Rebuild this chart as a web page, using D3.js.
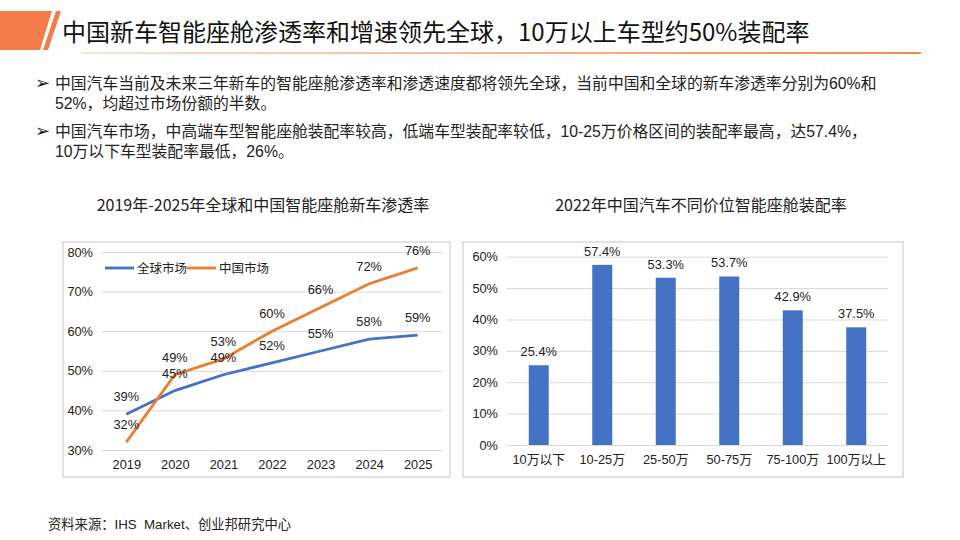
<!DOCTYPE html>
<html><head><meta charset="utf-8">
<script src="https://cdn.jsdelivr.net/npm/d3@7"></script>
<style>
html,body{margin:0;padding:0;background:#fff;}
svg{display:block;}
</style></head>
<body>
<svg id="c" width="960" height="540"></svg>
<script>
// ---- data ----
const titleText = "中国新车智能座舱渗透率和增速领先全球，10万以上车型约50%装配率";
const bulletLines = [
  ["中国汽车当前及未来三年新车的智能座舱渗透率和渗透速度都将领先全球，当前中国和全球的新车渗透率分别为60%和", "52%，均超过市场份额的半数。"],
  ["中国汽车市场，中高端车型智能座舱装配率较高，低端车型装配率较低，10-25万价格区间的装配率最高，达57.4%，", "10万以下车型装配率最低，26%。"]
];
const leftTitle = "2019年-2025年全球和中国智能座舱新车渗透率";
const rightTitle = "2022年中国汽车不同价位智能座舱装配率";
const sourceText = "资料来源：IHS\u00a0 Market、创业邦研究中心";

const years = ["2019","2020","2021","2022","2023","2024","2025"];
const globalSeries = [39,45,49,52,55,58,59];
const chinaSeries = [32,49,53,60,66,72,76];
const seriesNames = ["全球市场","中国市场"];
const leftTicks = [30,40,50,60,70,80];

const priceCats = ["10万以下","10-25万","25-50万","50-75万","75-100万","100万以上"];
const fitRates = [25.4,57.4,53.3,53.7,42.9,37.5];
const rightTicks = [0,10,20,30,40,50,60];

// ---- drawing ----
const svg = d3.select("#c");
const CJK = "'Noto Sans CJK SC', sans-serif";
const MIX = "'Liberation Sans', 'Noto Sans CJK SC', sans-serif";
const blue = "#4472C4", orange = "#ED7D31";

// header
const defs = svg.append("defs");
const grad = defs.append("linearGradient").attr("id","ul").attr("x1","0").attr("x2","1");
grad.append("stop").attr("offset","0").attr("stop-color","#fbe3d3");
grad.append("stop").attr("offset","1").attr("stop-color","#f08a4b");
svg.append("path").attr("d","M0,11 L52,11 L40,50 L0,50 Z").attr("fill","#f47c48");
svg.append("path").attr("d","M56,11 L61,11 L48,50 L43,50 Z").attr("fill","#f47c48");
svg.append("rect").attr("x",81).attr("y",52).attr("width",840).attr("height",2).attr("fill","url(#ul)");
svg.append("text").attr("x",62).attr("y",41).attr("font-family",CJK).attr("font-size",24)
  .attr("fill","#111").text(titleText);

// bullets
const bulletY = [89,137];
bulletLines.forEach((lines,i)=>{
  svg.append("text").attr("x",35).attr("y",bulletY[i]).attr("font-family","'DejaVu Sans', sans-serif")
    .attr("font-size",18).attr("fill","#222").text("➢");
  lines.forEach((l,j)=>{
    svg.append("text").attr("x",55).attr("y",bulletY[i]+j*19.5).attr("font-family",MIX)
      .attr("font-size",15.8).attr("fill","#222").text(l);
  });
});

// chart titles
svg.append("text").attr("x",263).attr("y",211).attr("text-anchor","middle").attr("font-family",CJK)
  .attr("font-size",16).attr("fill","#222").text(leftTitle);
svg.append("text").attr("x",701).attr("y",211).attr("text-anchor","middle").attr("font-family",CJK)
  .attr("font-size",16).attr("fill","#222").text(rightTitle);

// ---- left chart ----
svg.append("rect").attr("x",63).attr("y",242).attr("width",387).attr("height",235)
  .attr("fill","none").attr("stroke","#d9d9d9").attr("stroke-width",1.5);
const lx = d3.scalePoint().domain(years).range([102,442]).padding(0.5);
const ly = d3.scaleLinear().domain([30,80]).range([450,252]);
const gL = svg.append("g");
gL.append("g").attr("transform","translate(102,0)")
  .call(d3.axisLeft(ly).tickValues(leftTicks).tickSize(-340).tickFormat(d=>d+"%").tickPadding(9))
  .call(g=>{g.select(".domain").remove();
    g.selectAll("line").attr("stroke","#d9d9d9");
    g.selectAll("text").attr("font-family",MIX).attr("font-size",12.8).attr("fill","#222");});
gL.append("g").attr("transform","translate(0,450)")
  .call(d3.axisBottom(lx).tickSize(0).tickPadding(10))
  .call(g=>{g.select(".domain").remove();
    g.selectAll("text").attr("font-family",MIX).attr("font-size",12.8).attr("fill","#222");});
const line = d3.line().x((d,i)=>lx(years[i])).y(d=>ly(d));
const seriesList = [[globalSeries,blue],[chinaSeries,orange]];
seriesList.forEach(([s,c])=>{
  gL.append("path").datum(s).attr("d",line).attr("fill","none").attr("stroke",c).attr("stroke-width",2.8);
});
seriesList.forEach(([s,c])=>{
  gL.selectAll(null).data(s).enter().append("text")
    .attr("x",(d,i)=>lx(years[i])).attr("y",d=>ly(d)-13).attr("text-anchor","middle")
    .attr("font-family",MIX).attr("font-size",12.8).attr("fill","#222").text(d=>d+"%");
});
// legend
const leg = [[seriesNames[0],blue,105],[seriesNames[1],orange,187]];
leg.forEach(([n,c,x])=>{
  svg.append("line").attr("x1",x).attr("x2",x+29).attr("y1",268).attr("y2",268).attr("stroke",c).attr("stroke-width",2.8);
  svg.append("text").attr("x",x+32).attr("y",272.5).attr("font-family",CJK).attr("font-size",12.5)
    .attr("fill","#222").text(n);
});

// ---- right chart ----
svg.append("rect").attr("x",463).attr("y",242).attr("width",440).attr("height",235)
  .attr("fill","none").attr("stroke","#d9d9d9").attr("stroke-width",1.5);
const rx = d3.scaleBand().domain(priceCats).range([507,888]).paddingInner(0.685).paddingOuter(0.3425);
const ry = d3.scaleLinear().domain([0,60]).range([445,256.7]);
const gR = svg.append("g");
gR.append("g").attr("transform","translate(507,0)")
  .call(d3.axisLeft(ry).tickValues(rightTicks).tickSize(-381).tickFormat(d=>d+"%").tickPadding(9))
  .call(g=>{g.select(".domain").remove();
    g.selectAll("line").attr("stroke","#d9d9d9");
    g.selectAll("text").attr("font-family",MIX).attr("font-size",12.8).attr("fill","#222");});
gR.append("g").attr("transform","translate(0,445)")
  .call(d3.axisBottom(rx).tickSize(0).tickPadding(10))
  .call(g=>{g.select(".domain").remove();
    g.selectAll("text").attr("font-family",MIX).attr("font-size",12.8).attr("fill","#222");});
gR.selectAll("rect.bar").data(fitRates).enter().append("rect").attr("class","bar")
  .attr("x",(d,i)=>rx(priceCats[i])).attr("width",rx.bandwidth())
  .attr("y",d=>ry(d)).attr("height",d=>ry(0)-ry(d)).attr("fill",blue);
gR.selectAll("text.bl").data(fitRates).enter().append("text").attr("class","bl")
  .attr("x",(d,i)=>rx(priceCats[i])+rx.bandwidth()/2).attr("y",d=>ry(d)-9).attr("text-anchor","middle")
  .attr("font-family",MIX).attr("font-size",12.8).attr("fill","#222").text(d=>d.toFixed(1)+"%");

// source
svg.append("text").attr("x",48).attr("y",529).attr("font-family",MIX).attr("font-size",13.3)
  .attr("fill","#222").text(sourceText);
</script>
</body></html>
